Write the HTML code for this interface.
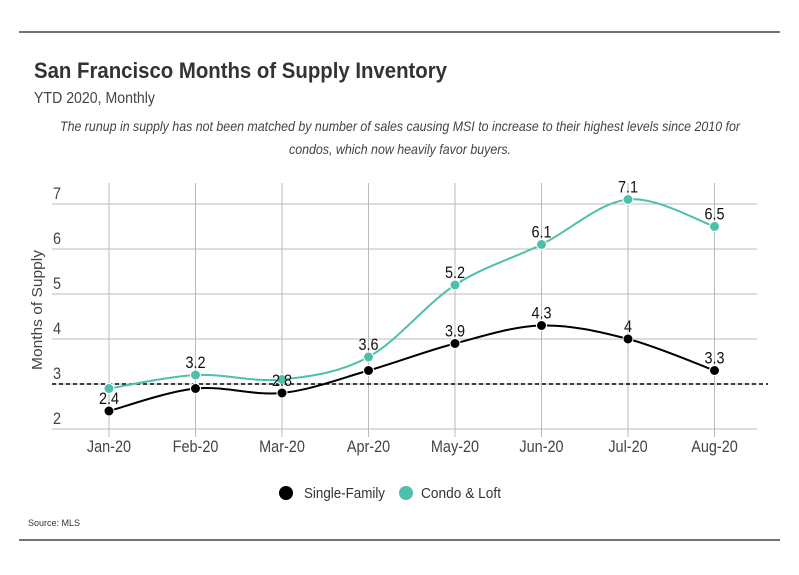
<!DOCTYPE html>
<html><head><meta charset="utf-8">
<style>
body{margin:0;background:#fff;}
svg{display:block;font-family:"Liberation Sans Narrow","Liberation Sans",sans-serif;}
</style></head>
<body>
<svg id="chart" width="799" height="575" viewBox="0 0 799 575">
<line x1="19" y1="32" x2="780" y2="32" stroke="#222" stroke-width="1.2"/>
<line x1="19" y1="540" x2="780" y2="540" stroke="#222" stroke-width="1.2"/>
<text x="34" y="78" font-size="22" font-weight="bold" fill="#333" textLength="413" lengthAdjust="spacingAndGlyphs">San Francisco Months of Supply Inventory</text>
<text x="34" y="103" font-size="16" fill="#444" textLength="121" lengthAdjust="spacingAndGlyphs">YTD 2020, Monthly</text>
<text x="60" y="131" font-size="14" font-style="italic" fill="#444" textLength="680" lengthAdjust="spacingAndGlyphs">The runup in supply has not been matched by number of sales causing MSI to increase to their highest levels since 2010 for</text>
<text x="289" y="154" font-size="14" font-style="italic" fill="#444" textLength="222" lengthAdjust="spacingAndGlyphs">condos, which now heavily favor buyers.</text>
<text transform="translate(42,310) rotate(-90)" font-size="15" fill="#444" text-anchor="middle" textLength="120" lengthAdjust="spacingAndGlyphs">Months of Supply</text>
<g id="grid"></g>
<g id="marks"></g>
<g>
<circle cx="286" cy="493" r="7" fill="#000"/>
<text x="304" y="498" font-size="15" fill="#333" textLength="81" lengthAdjust="spacingAndGlyphs">Single-Family</text>
<circle cx="406" cy="493" r="7" fill="#4dbfaa"/>
<text x="421" y="498" font-size="15" fill="#333" textLength="80" lengthAdjust="spacingAndGlyphs">Condo &amp; Loft</text>
</g>
<text x="28" y="526" font-size="9" fill="#333">Source:  MLS</text>
</svg>
<script>
const categories=["Jan-20","Feb-20","Mar-20","Apr-20","May-20","Jun-20","Jul-20","Aug-20"];
const singleFamily=[2.4,2.9,2.8,3.3,3.9,4.3,4.0,3.3];
const condo=[2.9,3.2,3.1,3.6,5.2,6.1,7.1,6.5];
const sfLabels=["2.4","","2.8","","3.9","4.3","4","3.3"];
const condoLabels=["","3.2","","3.6","5.2","6.1","7.1","6.5"];
const yTicks=[2,3,4,5,6,7];
const refValue=3;

const NS="http://www.w3.org/2000/svg";
const x=i=>109+i*86.5;
const y=v=>429-(v-2)*45;
function mk(tag,attrs,parent){const e=document.createElementNS(NS,tag);for(const k in attrs)e.setAttribute(k,attrs[k]);parent.appendChild(e);return e;}
function narrow(t,cx){t.setAttribute('transform',`translate(${cx},0) scale(0.85,1) translate(${-cx},0)`);}
const grid=document.getElementById('grid'),marks=document.getElementById('marks');
yTicks.forEach(t=>{
  const l=mk('line',{x1:52,x2:757,y1:y(t),y2:y(t),stroke:'#bbb','stroke-width':1},grid);
  
  
  const tx=mk('text',{x:53,y:y(t)-5,'font-size':17,fill:'#444'},grid);
  tx.textContent=t;
  narrow(tx,53);
  
  
});
categories.forEach((c,i)=>{
  const l=mk('line',{x1:x(i),x2:x(i),y1:183,y2:437,stroke:'#bbb','stroke-width':1},grid);
  
  
  const tx=mk('text',{x:x(i),y:452,'font-size':17,fill:'#444','text-anchor':'middle'},grid);
  tx.textContent=c;
  narrow(tx,x(i));
  
  
});
const ref=mk('line',{x1:52,x2:768,y1:y(refValue),y2:y(refValue),stroke:'#000','stroke-width':1.5,'stroke-dasharray':'4,3'},marks);


function path(vals){
  const p=vals.map((v,i)=>[x(i),y(v)]);
  let d=`M${p[0][0]},${p[0][1]}`;
  for(let i=0;i<p.length-1;i++){
    const p0=p[i-1]||p[i],p1=p[i],p2=p[i+1],p3=p[i+2]||p2;
    const t=0.5/3;
    d+=` C${p1[0]+(p2[0]-p0[0])*t},${p1[1]+(p2[1]-p0[1])*t} ${p2[0]-(p3[0]-p1[0])*t},${p2[1]-(p3[1]-p1[1])*t} ${p2[0]},${p2[1]}`;
  }
  return d;
}
function series(vals,labels,color,name){
  const pa=mk('path',{d:path(vals),fill:'none',stroke:color,'stroke-width':2},marks);
  
  
  vals.forEach((v,i)=>{
    const c=mk('circle',{cx:x(i),cy:y(v),r:5,fill:color,stroke:'#fff','stroke-width':1},marks);
    
    
  });
  vals.forEach((v,i)=>{
    if(!labels[i])return;
    const t=mk('text',{x:x(i),y:y(v)-7,'font-size':17,fill:'#111','text-anchor':'middle'},marks);
    t.textContent=labels[i];
    narrow(t,x(i));
    
    
  });
}
series(condo,condoLabels,'#4dbfaa','condo');
series(singleFamily,sfLabels,'#000','single-family');
</script>
</body></html>
